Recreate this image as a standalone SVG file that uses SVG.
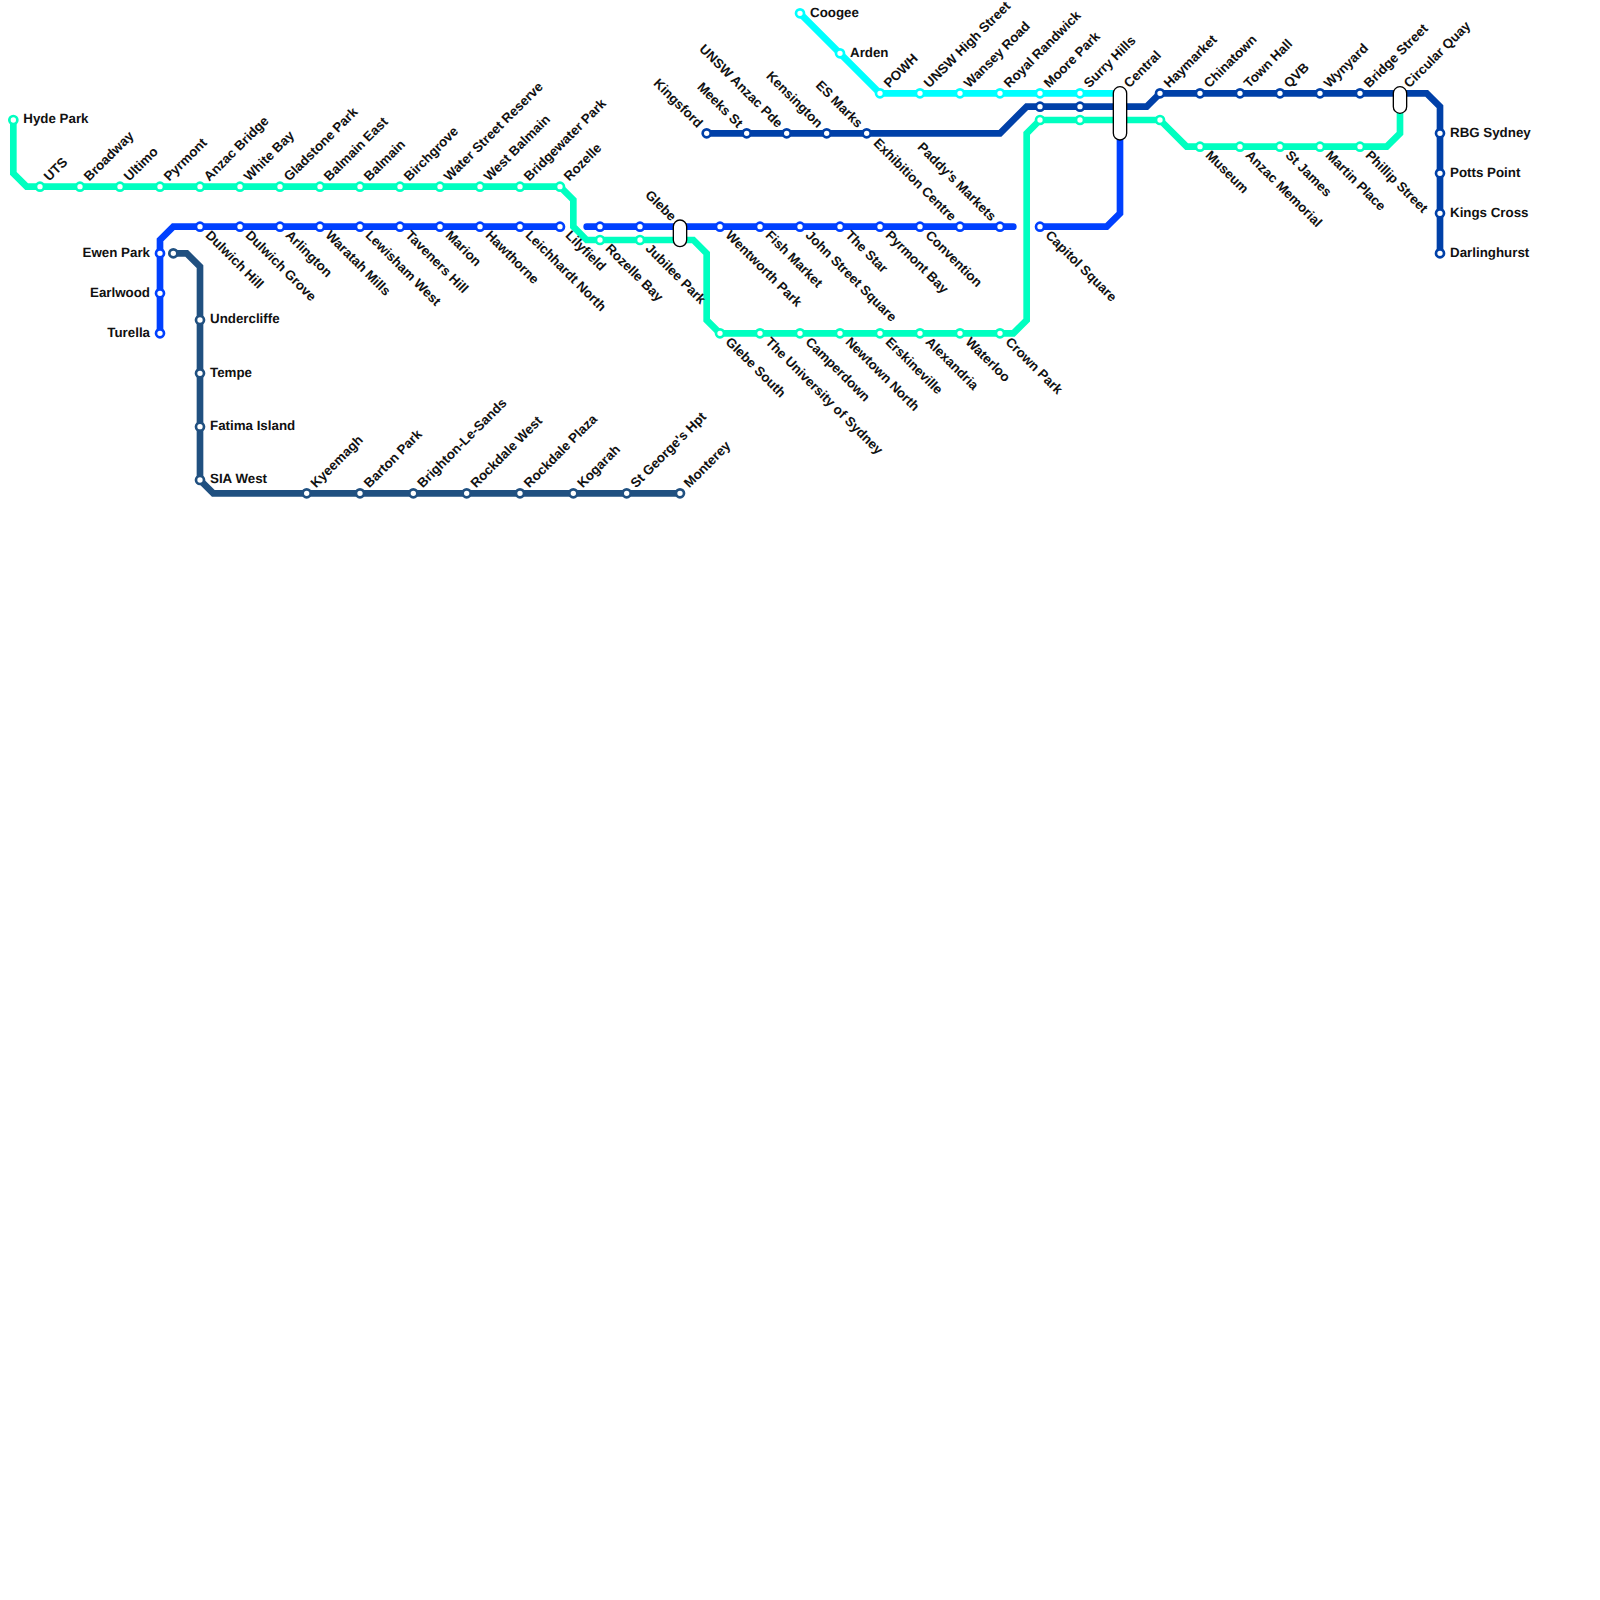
<svg xmlns="http://www.w3.org/2000/svg" width="1600" height="1600" viewBox="0 0 1600 1600">
<style>
.l{fill:none;stroke-width:6.67;stroke-linejoin:miter;stroke-linecap:round}
.g{stroke:#00ffc0}.b{stroke:#0040ff}.c{stroke:#00ffff}.d{stroke:#0040a8}.n{stroke:#205080}
circle{fill:#fff;stroke-width:2.67}
text{font-family:"Liberation Sans",Arial,sans-serif;font-size:13.33px;font-weight:700;fill:#111;text-rendering:geometricPrecision}
.e{text-anchor:end}
.p{fill:#fff;stroke:#000;stroke-width:1.33}
</style>
<rect width="1600" height="1600" fill="#fff"/>
<g id="connectors">
<path class="l n" d="M173.33 253.33H186.67L200 266.67V480L213.33 493.33H680"/>
<path class="l b" d="M160 333.33V240L173.33 226.67H560"/>
<path class="l b" d="M586.67 226.67H1013.33"/>
<path class="l b" d="M1040 226.67H1106.67L1120 213.33V120"/>
<path class="l d" d="M706.67 133.33H1000L1026.67 106.67H1146.67L1160 93.33H1426.67L1440 106.67V253.33"/>
<path class="l c" d="M800 13.33L880 93.33H1120"/>
<path class="l g" d="M13.33 120V173.33L26.67 186.67H560L573.33 200V226.67L586.67 240H693.33L706.67 253.33V320L720 333.33H1013.33L1026.67 320V133.33L1040 120H1160L1186.67 146.67H1386.67L1400 133.33V100"/>
</g>
<g id="line-hyde-park" class="stations">
<g id="s-hyde-park"><circle class="g" cx="13.33" cy="120" r="4"/><text transform="translate(13.33 120)" x="10" y="3.2">Hyde Park</text></g>
<g id="s-uts"><circle class="g" cx="40" cy="186.67" r="4"/><text transform="translate(40 186.67) rotate(-45)" x="10" y="3.2">UTS</text></g>
<g id="s-broadway"><circle class="g" cx="80" cy="186.67" r="4"/><text transform="translate(80 186.67) rotate(-45)" x="10" y="3.2">Broadway</text></g>
<g id="s-ultimo"><circle class="g" cx="120" cy="186.67" r="4"/><text transform="translate(120 186.67) rotate(-45)" x="10" y="3.2">Ultimo</text></g>
<g id="s-pyrmont"><circle class="g" cx="160" cy="186.67" r="4"/><text transform="translate(160 186.67) rotate(-45)" x="10" y="3.2">Pyrmont</text></g>
<g id="s-anzac-bridge"><circle class="g" cx="200" cy="186.67" r="4"/><text transform="translate(200 186.67) rotate(-45)" x="10" y="3.2">Anzac Bridge</text></g>
<g id="s-white-bay"><circle class="g" cx="240" cy="186.67" r="4"/><text transform="translate(240 186.67) rotate(-45)" x="10" y="3.2">White Bay</text></g>
<g id="s-gladstone-park"><circle class="g" cx="280" cy="186.67" r="4"/><text transform="translate(280 186.67) rotate(-45)" x="10" y="3.2">Gladstone Park</text></g>
<g id="s-balmain-east"><circle class="g" cx="320" cy="186.67" r="4"/><text transform="translate(320 186.67) rotate(-45)" x="10" y="3.2">Balmain East</text></g>
<g id="s-balmain"><circle class="g" cx="360" cy="186.67" r="4"/><text transform="translate(360 186.67) rotate(-45)" x="10" y="3.2">Balmain</text></g>
<g id="s-birchgrove"><circle class="g" cx="400" cy="186.67" r="4"/><text transform="translate(400 186.67) rotate(-45)" x="10" y="3.2">Birchgrove</text></g>
<g id="s-water-street-reserve"><circle class="g" cx="440" cy="186.67" r="4"/><text transform="translate(440 186.67) rotate(-45)" x="10" y="3.2">Water Street Reserve</text></g>
<g id="s-west-balmain"><circle class="g" cx="480" cy="186.67" r="4"/><text transform="translate(480 186.67) rotate(-45)" x="10" y="3.2">West Balmain</text></g>
<g id="s-bridgewater-park"><circle class="g" cx="520" cy="186.67" r="4"/><text transform="translate(520 186.67) rotate(-45)" x="10" y="3.2">Bridgewater Park</text></g>
<g id="s-rozelle"><circle class="g" cx="560" cy="186.67" r="4"/><text transform="translate(560 186.67) rotate(-45)" x="10" y="3.2">Rozelle</text></g>
<g id="s-rozelle-bay"><circle class="b" cx="600" cy="226.67" r="4"/><circle class="g" cx="600" cy="240" r="4"/><text transform="translate(600 240) rotate(45)" x="10" y="3.2">Rozelle Bay</text></g>
<g id="s-jubilee-park"><circle class="b" cx="640" cy="226.67" r="4"/><circle class="g" cx="640" cy="240" r="4"/><text transform="translate(640 240) rotate(45)" x="10" y="3.2">Jubilee Park</text></g>
<g id="s-glebe-south"><circle class="g" cx="720" cy="333.33" r="4"/><text transform="translate(720 333.33) rotate(45)" x="10" y="3.2">Glebe South</text></g>
<g id="s-university"><circle class="g" cx="760" cy="333.33" r="4"/><text transform="translate(760 333.33) rotate(45)" x="10" y="3.2">The University of Sydney</text></g>
<g id="s-camperdown"><circle class="g" cx="800" cy="333.33" r="4"/><text transform="translate(800 333.33) rotate(45)" x="10" y="3.2">Camperdown</text></g>
<g id="s-newtown-north"><circle class="g" cx="840" cy="333.33" r="4"/><text transform="translate(840 333.33) rotate(45)" x="10" y="3.2">Newtown North</text></g>
<g id="s-erskineville"><circle class="g" cx="880" cy="333.33" r="4"/><text transform="translate(880 333.33) rotate(45)" x="10" y="3.2">Erskineville</text></g>
<g id="s-alexandria"><circle class="g" cx="920" cy="333.33" r="4"/><text transform="translate(920 333.33) rotate(45)" x="10" y="3.2">Alexandria</text></g>
<g id="s-waterloo"><circle class="g" cx="960" cy="333.33" r="4"/><text transform="translate(960 333.33) rotate(45)" x="10" y="3.2">Waterloo</text></g>
<g id="s-crown-park"><circle class="g" cx="1000" cy="333.33" r="4"/><text transform="translate(1000 333.33) rotate(45)" x="10" y="3.2">Crown Park</text></g>
<g id="s-green-1040"><circle class="g" cx="1040" cy="120" r="4"/></g>
<g id="s-green-1080"><circle class="g" cx="1080" cy="120" r="4"/></g>
<g id="s-green-1160"><circle class="g" cx="1160" cy="120" r="4"/></g>
<g id="s-museum"><circle class="g" cx="1200" cy="146.67" r="4"/><text transform="translate(1200 146.67) rotate(45)" x="10" y="3.2">Museum</text></g>
<g id="s-anzac-memorial"><circle class="g" cx="1240" cy="146.67" r="4"/><text transform="translate(1240 146.67) rotate(45)" x="10" y="3.2">Anzac Memorial</text></g>
<g id="s-st-james"><circle class="g" cx="1280" cy="146.67" r="4"/><text transform="translate(1280 146.67) rotate(45)" x="10" y="3.2">St James</text></g>
<g id="s-martin-place"><circle class="g" cx="1320" cy="146.67" r="4"/><text transform="translate(1320 146.67) rotate(45)" x="10" y="3.2">Martin Place</text></g>
<g id="s-phillip-street"><circle class="g" cx="1360" cy="146.67" r="4"/><text transform="translate(1360 146.67) rotate(45)" x="10" y="3.2">Phillip Street</text></g>
</g>
<g id="line-blue" class="stations">
<g id="s-ewen-park"><circle class="b" cx="160" cy="253.33" r="4"/><text class="e" x="150" y="256.53">Ewen Park</text></g>
<g id="s-earlwood"><circle class="b" cx="160" cy="293.33" r="4"/><text class="e" x="150" y="296.53">Earlwood</text></g>
<g id="s-turella"><circle class="b" cx="160" cy="333.33" r="4"/><text class="e" x="150" y="336.53">Turella</text></g>
<g id="s-dulwich-hill"><circle class="b" cx="200" cy="226.67" r="4"/><text transform="translate(200 226.67) rotate(45)" x="10" y="3.2">Dulwich Hill</text></g>
<g id="s-dulwich-grove"><circle class="b" cx="240" cy="226.67" r="4"/><text transform="translate(240 226.67) rotate(45)" x="10" y="3.2">Dulwich Grove</text></g>
<g id="s-arlington"><circle class="b" cx="280" cy="226.67" r="4"/><text transform="translate(280 226.67) rotate(45)" x="10" y="3.2">Arlington</text></g>
<g id="s-waratah-mills"><circle class="b" cx="320" cy="226.67" r="4"/><text transform="translate(320 226.67) rotate(45)" x="10" y="3.2">Waratah Mills</text></g>
<g id="s-lewisham-west"><circle class="b" cx="360" cy="226.67" r="4"/><text transform="translate(360 226.67) rotate(45)" x="10" y="3.2">Lewisham West</text></g>
<g id="s-taveners-hill"><circle class="b" cx="400" cy="226.67" r="4"/><text transform="translate(400 226.67) rotate(45)" x="10" y="3.2">Taveners Hill</text></g>
<g id="s-marion"><circle class="b" cx="440" cy="226.67" r="4"/><text transform="translate(440 226.67) rotate(45)" x="10" y="3.2">Marion</text></g>
<g id="s-hawthorne"><circle class="b" cx="480" cy="226.67" r="4"/><text transform="translate(480 226.67) rotate(45)" x="10" y="3.2">Hawthorne</text></g>
<g id="s-leichhardt-north"><circle class="b" cx="520" cy="226.67" r="4"/><text transform="translate(520 226.67) rotate(45)" x="10" y="3.2">Leichhardt North</text></g>
<g id="s-lilyfield"><circle class="b" cx="560" cy="226.67" r="4"/><text transform="translate(560 226.67) rotate(45)" x="10" y="3.2">Lilyfield</text></g>
<g id="s-wentworth-park"><circle class="b" cx="720" cy="226.67" r="4"/><text transform="translate(720 226.67) rotate(45)" x="10" y="3.2">Wentworth Park</text></g>
<g id="s-fish-market"><circle class="b" cx="760" cy="226.67" r="4"/><text transform="translate(760 226.67) rotate(45)" x="10" y="3.2">Fish Market</text></g>
<g id="s-john-street-square"><circle class="b" cx="800" cy="226.67" r="4"/><text transform="translate(800 226.67) rotate(45)" x="10" y="3.2">John Street Square</text></g>
<g id="s-the-star"><circle class="b" cx="840" cy="226.67" r="4"/><text transform="translate(840 226.67) rotate(45)" x="10" y="3.2">The Star</text></g>
<g id="s-pyrmont-bay"><circle class="b" cx="880" cy="226.67" r="4"/><text transform="translate(880 226.67) rotate(45)" x="10" y="3.2">Pyrmont Bay</text></g>
<g id="s-convention"><circle class="b" cx="920" cy="226.67" r="4"/><text transform="translate(920 226.67) rotate(45)" x="10" y="3.2">Convention</text></g>
<g id="s-exhibition-centre"><circle class="b" cx="960" cy="226.67" r="4"/><text class="e" transform="translate(960 226.67) rotate(45)" x="-10" y="3.2">Exhibition Centre</text></g>
<g id="s-paddys-markets"><circle class="b" cx="1000" cy="226.67" r="4"/><text class="e" transform="translate(1000 226.67) rotate(45)" x="-10" y="3.2">Paddy's Markets</text></g>
<g id="s-capitol-square"><circle class="b" cx="1040" cy="226.67" r="4"/><text transform="translate(1040 226.67) rotate(45)" x="10" y="3.2">Capitol Square</text></g>
</g>
<g id="line-cyan" class="stations">
<g id="s-coogee"><circle class="c" cx="800" cy="13.33" r="4"/><text x="810" y="16.53">Coogee</text></g>
<g id="s-arden"><circle class="c" cx="840" cy="53.33" r="4"/><text x="850" y="56.53">Arden</text></g>
<g id="s-powh"><circle class="c" cx="880" cy="93.33" r="4"/><text transform="translate(880 93.33) rotate(-45)" x="10" y="3.2">POWH</text></g>
<g id="s-unsw-high-street"><circle class="c" cx="920" cy="93.33" r="4"/><text transform="translate(920 93.33) rotate(-45)" x="10" y="3.2">UNSW High Street</text></g>
<g id="s-wansey-road"><circle class="c" cx="960" cy="93.33" r="4"/><text transform="translate(960 93.33) rotate(-45)" x="10" y="3.2">Wansey Road</text></g>
<g id="s-royal-randwick"><circle class="c" cx="1000" cy="93.33" r="4"/><text transform="translate(1000 93.33) rotate(-45)" x="10" y="3.2">Royal Randwick</text></g>
<g id="s-moore-park"><circle class="c" cx="1040" cy="93.33" r="4"/><circle class="d" cx="1040" cy="106.67" r="4"/><text transform="translate(1040 93.33) rotate(-45)" x="10" y="3.2">Moore Park</text></g>
<g id="s-surry-hills"><circle class="c" cx="1080" cy="93.33" r="4"/><circle class="d" cx="1080" cy="106.67" r="4"/><text transform="translate(1080 93.33) rotate(-45)" x="10" y="3.2">Surry Hills</text></g>
</g>
<g id="line-dark" class="stations">
<g id="s-kingsford"><circle class="d" cx="706.67" cy="133.33" r="4"/><text class="e" transform="translate(706.67 133.33) rotate(45)" x="-10" y="3.2">Kingsford</text></g>
<g id="s-meeks-st"><circle class="d" cx="746.67" cy="133.33" r="4"/><text class="e" transform="translate(746.67 133.33) rotate(45)" x="-10" y="3.2">Meeks St</text></g>
<g id="s-unsw-anzac-pde"><circle class="d" cx="786.67" cy="133.33" r="4"/><text class="e" transform="translate(786.67 133.33) rotate(45)" x="-10" y="3.2">UNSW Anzac Pde</text></g>
<g id="s-kensington"><circle class="d" cx="826.67" cy="133.33" r="4"/><text class="e" transform="translate(826.67 133.33) rotate(45)" x="-10" y="3.2">Kensington</text></g>
<g id="s-es-marks"><circle class="d" cx="866.67" cy="133.33" r="4"/><text class="e" transform="translate(866.67 133.33) rotate(45)" x="-10" y="3.2">ES Marks</text></g>
<g id="s-haymarket"><circle class="d" cx="1160" cy="93.33" r="4"/><text transform="translate(1160 93.33) rotate(-45)" x="10" y="3.2">Haymarket</text></g>
<g id="s-chinatown"><circle class="d" cx="1200" cy="93.33" r="4"/><text transform="translate(1200 93.33) rotate(-45)" x="10" y="3.2">Chinatown</text></g>
<g id="s-town-hall"><circle class="d" cx="1240" cy="93.33" r="4"/><text transform="translate(1240 93.33) rotate(-45)" x="10" y="3.2">Town Hall</text></g>
<g id="s-qvb"><circle class="d" cx="1280" cy="93.33" r="4"/><text transform="translate(1280 93.33) rotate(-45)" x="10" y="3.2">QVB</text></g>
<g id="s-wynyard"><circle class="d" cx="1320" cy="93.33" r="4"/><text transform="translate(1320 93.33) rotate(-45)" x="10" y="3.2">Wynyard</text></g>
<g id="s-bridge-street"><circle class="d" cx="1360" cy="93.33" r="4"/><text transform="translate(1360 93.33) rotate(-45)" x="10" y="3.2">Bridge Street</text></g>
<g id="s-rbg-sydney"><circle class="d" cx="1440" cy="133.33" r="4"/><text x="1450" y="136.53">RBG Sydney</text></g>
<g id="s-potts-point"><circle class="d" cx="1440" cy="173.33" r="4"/><text x="1450" y="176.53">Potts Point</text></g>
<g id="s-kings-cross"><circle class="d" cx="1440" cy="213.33" r="4"/><text x="1450" y="216.53">Kings Cross</text></g>
<g id="s-darlinghurst"><circle class="d" cx="1440" cy="253.33" r="4"/><text x="1450" y="256.53">Darlinghurst</text></g>
</g>
<g id="line-navy" class="stations">
<g id="s-navy-end"><circle class="n" cx="173.33" cy="253.33" r="4"/></g>
<g id="s-undercliffe"><circle class="n" cx="200" cy="320" r="4"/><text x="210" y="323.2">Undercliffe</text></g>
<g id="s-tempe"><circle class="n" cx="200" cy="373.33" r="4"/><text x="210" y="376.53">Tempe</text></g>
<g id="s-fatima-island"><circle class="n" cx="200" cy="426.67" r="4"/><text x="210" y="429.87">Fatima Island</text></g>
<g id="s-sia-west"><circle class="n" cx="200" cy="480" r="4"/><text x="210" y="483.2">SIA West</text></g>
<g id="s-kyeemagh"><circle class="n" cx="306.67" cy="493.33" r="4"/><text transform="translate(306.67 493.33) rotate(-45)" x="10" y="3.2">Kyeemagh</text></g>
<g id="s-barton-park"><circle class="n" cx="360" cy="493.33" r="4"/><text transform="translate(360 493.33) rotate(-45)" x="10" y="3.2">Barton Park</text></g>
<g id="s-brighton"><circle class="n" cx="413.33" cy="493.33" r="4"/><text transform="translate(413.33 493.33) rotate(-45)" x="10" y="3.2">Brighton-Le-Sands</text></g>
<g id="s-rockdale-west"><circle class="n" cx="466.67" cy="493.33" r="4"/><text transform="translate(466.67 493.33) rotate(-45)" x="10" y="3.2">Rockdale West</text></g>
<g id="s-rockdale-plaza"><circle class="n" cx="520" cy="493.33" r="4"/><text transform="translate(520 493.33) rotate(-45)" x="10" y="3.2">Rockdale Plaza</text></g>
<g id="s-kogarah"><circle class="n" cx="573.33" cy="493.33" r="4"/><text transform="translate(573.33 493.33) rotate(-45)" x="10" y="3.2">Kogarah</text></g>
<g id="s-st-georges-hpt"><circle class="n" cx="626.67" cy="493.33" r="4"/><text transform="translate(626.67 493.33) rotate(-45)" x="10" y="3.2">St George's Hpt</text></g>
<g id="s-monterey"><circle class="n" cx="680" cy="493.33" r="4"/><text transform="translate(680 493.33) rotate(-45)" x="10" y="3.2">Monterey</text></g>
</g>
<g id="interchanges">
<g id="s-glebe"><rect class="p" x="673.33" y="220" width="13.33" height="26.67" rx="6.67"/><text class="e" transform="translate(680 226.67) rotate(45)" x="-10" y="3.2">Glebe</text></g>
<g id="s-central"><rect class="p" x="1113.33" y="86.67" width="13.33" height="53.33" rx="6.67"/><text transform="translate(1120 93.33) rotate(-45)" x="10" y="3.2">Central</text></g>
<g id="s-circular-quay"><rect class="p" x="1393.33" y="86.67" width="13.33" height="26.67" rx="6.67"/><text transform="translate(1400 93.33) rotate(-45)" x="10" y="3.2">Circular Quay</text></g>
</g>
</svg>
